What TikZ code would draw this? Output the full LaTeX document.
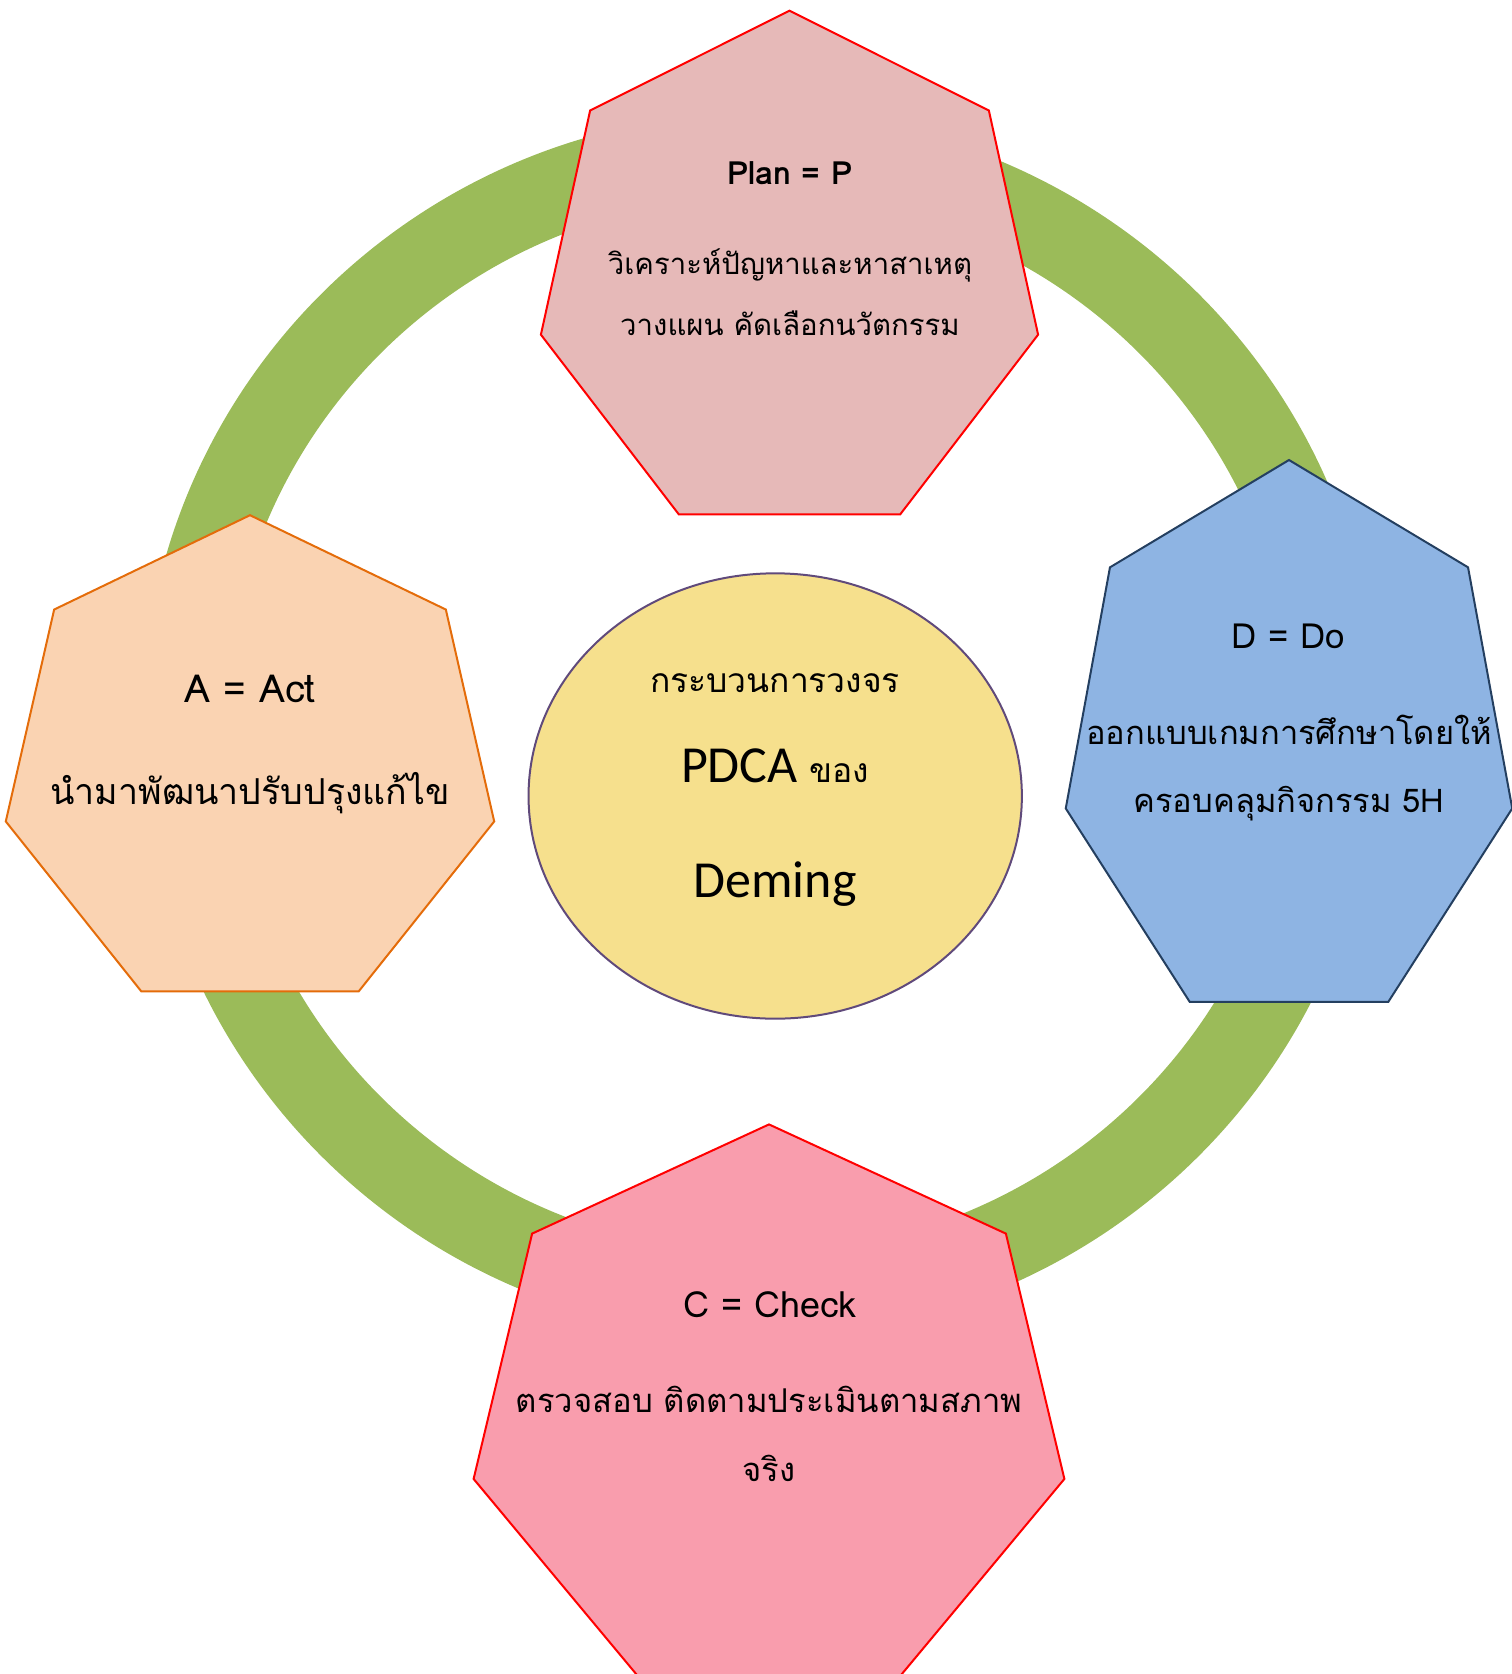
\documentclass[tikz,border=0pt]{standalone}
\usepackage{fontspec}
\newfontfamily\thaifont[Script=Thai]{Loma}
\newfontfamily\calibrifont{Carlito}
\usetikzlibrary{positioning,shapes.geometric}
\definecolor{CycleGreen}{HTML}{9BBB59}
\definecolor{PlanFill}{HTML}{E6B9B8}
\definecolor{DoFill}{HTML}{8EB4E3}
\definecolor{DoLine}{HTML}{243F60}
\definecolor{ActFill}{HTML}{FAD3B2}
\definecolor{ActLine}{HTML}{E46C0A}
\definecolor{CheckFill}{HTML}{F99DAD}
\definecolor{CoreFill}{HTML}{F6E08D}
\definecolor{CoreLine}{HTML}{604A7B}
\tikzset{
  ring/.style={draw=CycleGreen,line width=63pt},
  stage/.style={line width=1.5pt,line join=miter},
  planstage/.style={stage,draw=red,fill=PlanFill},
  dostage/.style={stage,draw=DoLine,fill=DoFill},
  actstage/.style={stage,draw=ActLine,fill=ActFill},
  checkstage/.style={stage,draw=red,fill=CheckFill},
  core/.style={ellipse,draw=CoreLine,line width=1.5pt,fill=CoreFill,inner sep=0pt,minimum width=370pt,minimum height=334pt},
  label/.style={anchor=base,inner sep=0pt,text=black},
  thaitext/.style={label,font={\fontsize{#1}{#1}\selectfont\thaifont}},
  bigtext/.style={label,font={\fontsize{39}{39}\selectfont\calibrifont}}
}
% heptagon standing on a named centre: style, centre, x radius, y radius
\newcommand\heptagon[4]{%
  \draw[#1] (#2) +(90:#3 and #4) \foreach \k in {1,...,6}{ -- +(90+\k*360/7:#3 and #4)} -- cycle;}

\begin{document}
\begin{tikzpicture}[x=0.75pt,y=0.75pt]
  \useasboundingbox (0,0) rectangle (1511,-1674);
  \draw[ring] (760,-725) ellipse [x radius=576, y radius=570];

  \coordinate (planc) at (789.5,-275.7);
  \coordinate (doc) at (1289,-745);
  \coordinate (actc) at (250,-765.7);
  \coordinate (checkc) at (769,-1414.4);
  \heptagon{planstage}{planc}{255}{265}
  \heptagon{dostage}{doc}{229}{285}
  \heptagon{actstage}{actc}{250.5}{250.5}
  \heptagon{checkstage}{checkc}{303}{290}
  \node[core] (core) at (775.2,-796) {};

  % plan
  \node[thaitext=24] (plantitle) at (790,-184) {\bfseries Plan = P};
  \node[thaitext=22] (planline1) at (790,-274) {วิเคราะห์ปัญหาและหาสาเหตุ};
  \node[thaitext=22] (planline2) at (790,-335.5) {วางแผน คัดเลือกนวัตกรรม};
  % do
  \node[thaitext=26] (dotitle) at (1288,-648) {D = Do};
  \node[thaitext=24.5] (doline1) at (1289,-744) {ออกแบบเกมการศึกษาโดยให้};
  \node[thaitext=24.5] (doline2) at (1289,-812) {ครอบคลุมกิจกรรม 5H};
  % act
  \node[thaitext=29] (acttitle) at (250,-702) {A = Act};
  \node[thaitext=26.8] (actline) at (250,-804) {นำมาพัฒนาปรับปรุงแก้ไข};
  % check
  \node[thaitext=27] (checktitle) at (770,-1317) {C = Check};
  \node[thaitext=24.6] (checkline1) at (769,-1412) {ตรวจสอบ ติดตามประเมินตามสภาพ};
  \node[thaitext=24.6] (checkline2) at (769,-1481) {จริง};
  % centre
  \node[thaitext=25.2] (coreline1) at (775,-692) {กระบวนการวงจร};
  \node[bigtext] (coreline2) at (775,-782) {PDCA {\thaifont\fontsize{25.2}{25.2}\selectfont ของ}};
  \node[bigtext] (coreline3) at (775,-897.5) {Deming};
\end{tikzpicture}
\end{document}
